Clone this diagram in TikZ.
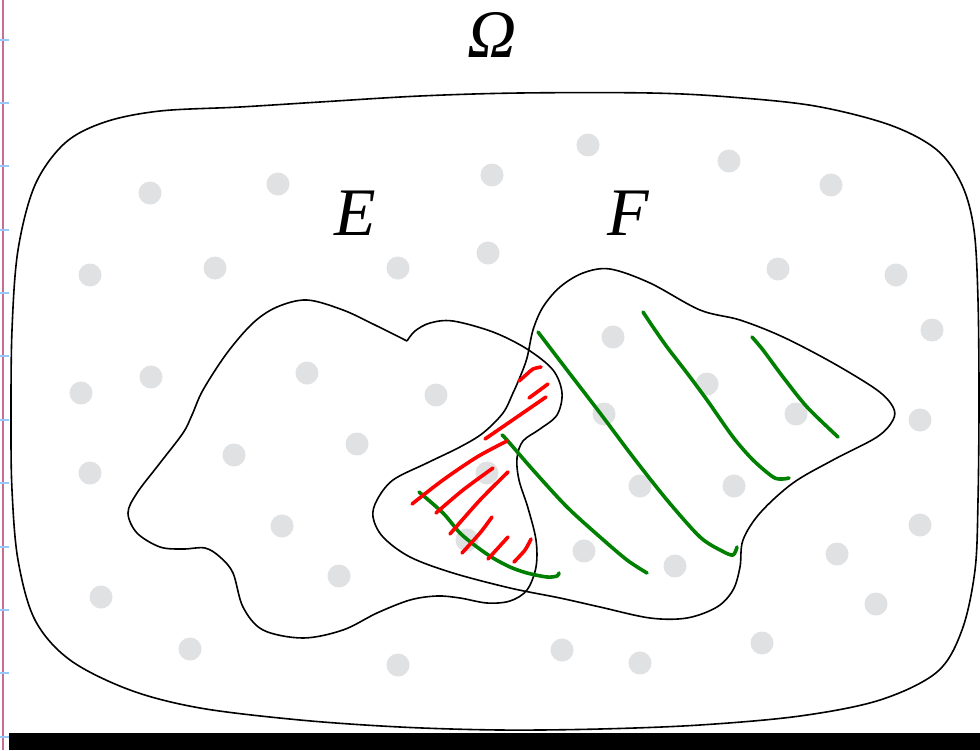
\documentclass[tikz,border=0pt]{standalone}
\usepackage{fontspec}
\setmainfont{Liberation Serif}
\definecolor{dotgray}{RGB}{224,225,227}
\definecolor{hatchgreen}{RGB}{0,128,0}
\definecolor{hatchred}{RGB}{255,0,0}
\definecolor{marginpink}{RGB}{200,110,150}
\definecolor{tickblue}{RGB}{150,200,250}
\begin{document}
\begin{tikzpicture}[x=0.5pt,y=-0.5pt,
  region/.style={draw=black, line width=0.8pt, line join=round},
  gstroke/.style={draw=hatchgreen, line width=1.8pt, line cap=round, line join=round},
  rstroke/.style={draw=hatchred, line width=1.8pt, line cap=round, line join=round},
  setlabel/.style={font=\itshape\fontsize{34}{38}\selectfont, anchor=base, inner sep=0pt}]
\useasboundingbox (0,0) rectangle (980,750);
\fill[white] (0,0) rectangle (980,750);
% dots
\foreach \x/\y in {150/193,278/184,492/175,588/145,729/161,831/185,
  90/275,215/268,398/268,488/253,778/269,896/275,
  932/330,613/337,
  81/393,151/377,307/373,436/395,707/384,796/414,604/414,920/420,
  90/473,234/455,357/444,487/473,640/486,734/486,
  282/526,467/540,584/551,675/566,837/554,920/525,
  101/597,339/576,876/604,
  190/649,398/665,562/650,640/663,762/643}
  \fill[dotgray] (\x,\y) circle[radius=11.5];
% margin line and ticks
\draw[marginpink, line width=1pt] (3,0) -- (3,750);
\foreach \y in {40,103,166,230,293,356,420,483,547,610,673,737}
  \draw[tickblue, line width=0.6pt] (0,\y) -- (9,\y);
% Omega
\draw[region] plot[smooth cycle, tension=0.55] coordinates {
  (11,420) (12,330) (18,250) (35,185) (65,143) (105,122) (160,111) (240,107)
  (320,102) (420,96) (520,93) (650,93) (730,97) (815,106) (890,125) (937,150)
  (962,185) (974,230) (978,300) (979,400) (978,500) (975,570) (962,630) (937,672)
  (880,700) (800,716) (700,725) (600,729) (500,730) (400,727) (300,720) (200,708)
  (130,690) (70,660) (35,620) (18,560) (12,490)};
% E
\draw[region] plot[smooth, tension=0.55] coordinates {
  (407,341) (415,331) (430,323) (453,321) (493,332) (527,349) (553,370) (562,393)
  (557,415) (540,429) (523,441) (517,458) (519,480) (528,508) (536,540) (536,567)
  (527,590) (510,601) (487,603) (460,598) (437,596) (410,600) (377,613) (343,630)
  (303,638) (263,630) (243,607) (233,573) (220,557) (205,548) (183,549) (160,547)
  (137,533) (128,513) (137,493) (160,463) (183,433) (192,415) (203,390) (227,353)
  (253,323) (277,307) (307,300) (343,310) (375,325) (407,341)};
% F
\draw[region] plot[smooth cycle, tension=0.55] coordinates {
  (610,269) (583,273) (560,287) (543,307) (533,330) (527,358) (520,377) (513,393)
  (503,413) (483,433) (460,447) (427,463) (393,480) (377,500) (373,517) (383,537)
  (410,557) (453,573) (510,588) (560,598) (600,607) (650,618) (687,618) (717,607)
  (733,590) (740,567) (743,540) (760,513) (793,483) (833,460) (877,437) (893,420)
  (893,407) (877,390) (833,363) (783,337) (740,320) (700,310) (650,283)};
% green hatching
\draw[gstroke] plot[smooth] coordinates {(538,332) (567,370) (600,413) (633,457) (667,500) (700,537) (722,551) (733,555) (737,547)};
\draw[gstroke] plot[smooth] coordinates {(643,312) (653,327) (667,347) (687,373) (707,400) (733,437) (753,460) (773,477) (782,479) (789,478)};
\draw[gstroke] plot[smooth] coordinates {(752,337) (763,350) (783,377) (807,407) (838,437)};
\draw[gstroke] plot[smooth] coordinates {(502,435) (507,440) (533,470) (567,507) (600,537) (627,560) (647,573)};
\draw[gstroke] plot[smooth] coordinates {(419,492) (443,513) (460,533) (477,547) (493,558) (510,567) (527,573) (547,577) (557,576) (559,573)};
% red hatching
\draw[rstroke] plot[smooth] coordinates {(519,381) (527,374) (533,369) (541,367)};
\draw[rstroke] (529,398) -- (548,384);
\draw[rstroke] plot[smooth] coordinates {(485,439) (517,417) (546,397)};
\draw[rstroke] plot[smooth] coordinates {(412,504) (443,480) (477,457) (507,441)};
\draw[rstroke] plot[smooth] coordinates {(436,513) (463,490) (493,468)};
\draw[rstroke] plot[smooth] coordinates {(450,534) (480,500) (508,472)};
\draw[rstroke] plot[smooth] coordinates {(462,553) (480,533) (492,517)};
\draw[rstroke] (488,559) -- (508,537);
\draw[rstroke] plot[smooth] coordinates {(514,562) (525,550) (531,539)};
% labels
\node[setlabel] (omega) at (492,57) {Ω};
\node[setlabel] (E) at (355,235) {E};
\node[setlabel] (F) at (628,235) {F};
% bottom bar
\fill[black] (9,733) rectangle (980,750);
\end{tikzpicture}
\end{document}
